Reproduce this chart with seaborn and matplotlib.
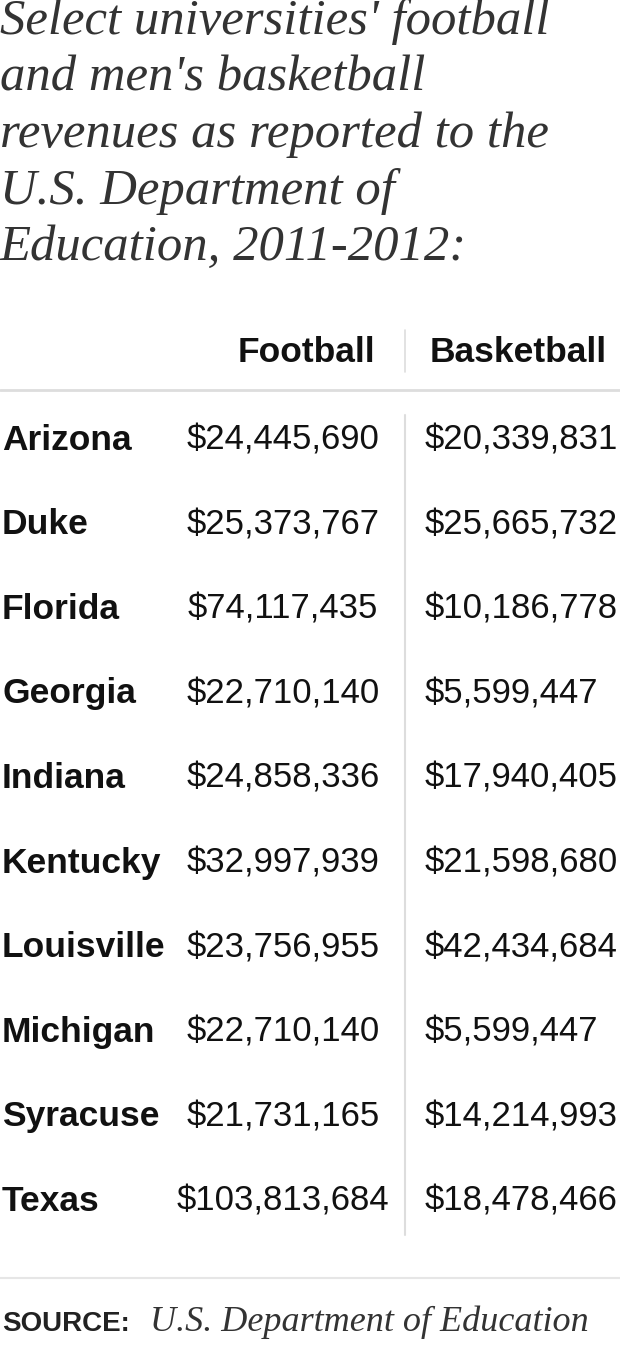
import matplotlib
matplotlib.use("Agg")
import matplotlib.pyplot as plt
import seaborn as sns

sns.set_theme(style="white")

title_lines = ["Select universities' football", "and men's basketball",
               "revenues as reported to the", "U.S. Department of",
               "Education, 2011-2012:"]
columns = ["Football", "Basketball"]
schools = ["Arizona", "Duke", "Florida", "Georgia", "Indiana", "Kentucky",
           "Louisville", "Michigan", "Syracuse", "Texas"]
football = ["$24,445,690", "$25,373,767", "$74,117,435", "$22,710,140", "$24,858,336",
            "$32,997,939", "$23,756,955", "$22,710,140", "$21,731,165", "$103,813,684"]
basketball = ["$20,339,831", "$25,665,732", "$10,186,778", "$5,599,447", "$17,940,405",
              "$21,598,680", "$42,434,684", "$5,599,447", "$14,214,993", "$18,478,466"]
source_label = "SOURCE:"
source_text = "U.S. Department of Education"

fig = plt.figure(figsize=(6.2, 13.53), dpi=100)
ax = fig.add_axes([0, 0, 1, 1])
ax.set_xlim(0, 620)
ax.set_ylim(1353, 0)
ax.axis("off")

serif = "Liberation Serif"
sans = "Liberation Sans"

for i, line in enumerate(title_lines):
    ax.text(0, 22 + i * 56.5, line, fontfamily=serif, style="italic",
            fontsize=36.5, color="#333333", va="center", ha="left")

ax.text(375, 352, columns[0], fontfamily=sans, fontweight="bold", fontsize=25.5,
        color="#111111", va="center", ha="right")
ax.text(430, 352, columns[1], fontfamily=sans, fontweight="bold", fontsize=25.5,
        color="#111111", va="center", ha="left")
ax.plot([405, 405], [330, 372], color="#dddddd", lw=1.2)
ax.plot([0, 620], [390, 390], color="#dddddd", lw=2)
ax.plot([405, 405], [415, 1235], color="#dddddd", lw=1.5)

for i, (s, f, b) in enumerate(zip(schools, football, basketball)):
    y = 440 + i * 84.6
    ax.text(2, y, s, fontfamily=sans, fontweight="bold", fontsize=25.5,
            color="#111111", va="center", ha="left")
    ax.text(283, y, f, fontfamily=sans, fontsize=25, color="#111111",
            va="center", ha="center")
    ax.text(425, y, b, fontfamily=sans, fontsize=25, color="#111111",
            va="center", ha="left")

ax.plot([0, 620], [1278, 1278], color="#e6e6e6", lw=1.5)
ax.text(2, 1324, source_label, fontfamily=sans, fontweight="bold", fontsize=20,
        color="#222222", va="center", ha="left")
ax.text(150, 1322, source_text, fontfamily=serif, style="italic", fontsize=26,
        color="#333333", va="center", ha="left")

fig.savefig("out.png", dpi=100)
